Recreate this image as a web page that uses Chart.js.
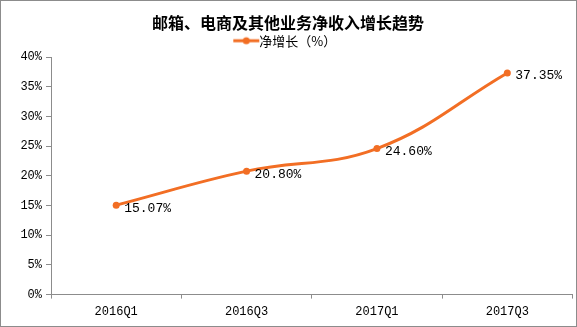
<!DOCTYPE html>
<html><head><meta charset="utf-8">
<script src="https://cdn.jsdelivr.net/npm/chart.js@4/dist/chart.umd.min.js"></script>
<style>
html,body{margin:0;padding:0;background:#fff;}
#wrap{width:577px;height:327px;position:relative;box-sizing:border-box;border:1px solid #8c8c8c;}
canvas{display:block;}
</style></head>
<body><div id="wrap"><canvas id="c" width="575" height="325"></canvas></div>
<script>
const categories = ['2016Q1','2016Q3','2017Q1','2017Q3'];
const netGrowth = [15.07, 20.80, 24.60, 37.35];
const seriesName = '净增长（%）';
const chartTitle = '邮箱、电商及其他业务净收入增长趋势';
const yTicks = [0,5,10,15,20,25,30,35,40];

const color = '#F26E24';
// legend marker image
const mk = document.createElement('canvas');
mk.width = 28; mk.height = 10;
const mc = mk.getContext('2d');
mc.strokeStyle = color; mc.lineWidth = 3;
mc.beginPath(); mc.moveTo(1,5); mc.lineTo(27,5); mc.stroke();
mc.fillStyle = color; mc.beginPath(); mc.arc(14,5,3.5,0,Math.PI*2); mc.fill();

const labelPlugin = {
  id:'vlabels',
  afterDatasetsDraw(chart){
    const ctx = chart.ctx;
    const meta = chart.getDatasetMeta(0);
    ctx.save();
    ctx.font = '13px "Liberation Mono", monospace';
    ctx.fillStyle = '#000';
    ctx.textBaseline = 'middle';
    ctx.textAlign = 'left';
    meta.data.forEach((p,i)=>{
      ctx.fillText(netGrowth[i].toFixed(2)+'%', p.x+8, p.y+3);
    });
    ctx.restore();
  }
};

Chart.defaults.font.family = '"Liberation Mono", monospace';
Chart.defaults.color = '#000';

new Chart(document.getElementById('c'), {
  type:'line',
  data:{
    labels: categories,
    datasets:[{
      label: seriesName,
      data: netGrowth,
      borderColor: color,
      backgroundColor: color,
      borderWidth: 3,
      pointRadius: 3.5,
      pointHoverRadius: 3.5,
      pointBackgroundColor: color,
      pointBorderWidth: 0,
      tension: 0.4,
      cubicInterpolationMode: 'default'
    }]
  },
  options:{
    responsive:false,
    animation:false,
    events:[],
    layout:{padding:{left:0,right:1,top:10,bottom:1}},
    plugins:{
      title:{display:true,text:chartTitle,
        font:{family:'"Noto Sans CJK SC", sans-serif',size:16,weight:'bold'},
        color:'#000',padding:{top:2,bottom:1}},
      legend:{display:true,
        labels:{usePointStyle:true,pointStyle:mk,
          font:{family:'"Noto Sans CJK SC", sans-serif',size:13},
          color:'#000',padding:1, boxHeight:10}},
      tooltip:{enabled:false}
    },
    scales:{
      x:{
        offset:true,
        grid:{display:true,drawOnChartArea:false,drawTicks:true,tickLength:4,offset:true,color:'#8c8c8c'},
        border:{display:true,color:'#8c8c8c',width:1},
        ticks:{font:{size:12},color:'#000',padding:6,maxRotation:0}
      },
      y:{
        min:0,max:40,
        afterFit(s){ s.width = 50; },
        afterBuildTicks(s){ s.ticks = yTicks.map(v=>({value:v})); },
        grid:{display:true,drawOnChartArea:false,drawTicks:true,tickLength:5,color:'#8c8c8c'},
        border:{display:true,color:'#8c8c8c',width:1},
        ticks:{font:{size:12},color:'#000',padding:4,callback:v=>v+'%'}
      }
    }
  },
  plugins:[labelPlugin]
});
</script></body></html>
